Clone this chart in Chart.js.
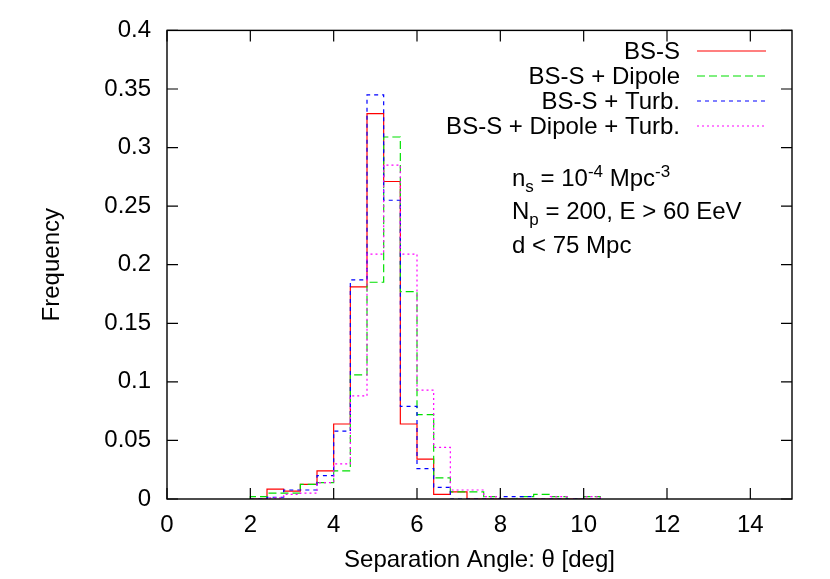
<!DOCTYPE html>
<html>
<head>
<meta charset="utf-8">
<script src="https://cdn.jsdelivr.net/npm/chart.js@4/dist/chart.umd.min.js"></script>
<style>
  html, body { margin: 0; padding: 0; background: #ffffff; }
  #wrap { width: 830px; height: 579px; }
</style>
</head>
<body>
<div id="wrap"><canvas id="c" width="830" height="579"></canvas></div>
<script>
// ---- data ----
const binEdges = [2.0, 2.4, 2.8, 3.2, 3.6, 4.0, 4.4, 4.8, 5.2, 5.6, 6.0, 6.4, 6.8, 7.2, 7.6, 8.0, 8.4, 8.8, 9.2, 9.6, 10.0, 10.4];
const bsS        = [0, 0.0085, 0.0068, 0.0125, 0.024, 0.064, 0.181, 0.329, 0.271, 0.064, 0.034, 0.004, 0.006, 0, 0, 0, 0, 0, 0, 0, 0];
const bsSDipole  = [0.002, 0.005, 0.005, 0.0125, 0.014, 0.024, 0.106, 0.185, 0.309, 0.177, 0.072, 0.018, 0.006, 0.006, 0.002, 0, 0.002, 0.004, 0.002, 0, 0.002];
const bsSTurb    = [0, 0.0015, 0.0077, 0.0077, 0.020, 0.058, 0.187, 0.345, 0.255, 0.079, 0.026, 0.010, 0, 0, 0, 0.002, 0.002, 0, 0, 0, 0];
const bsSDipTurb = [0, 0.001, 0.004, 0.005, 0.014, 0.030, 0.088, 0.209, 0.285, 0.209, 0.093, 0.044, 0.0077, 0.0077, 0.002, 0, 0, 0, 0.002, 0, 0.002];
const seriesLabels = ['BS-S', 'BS-S + Dipole', 'BS-S + Turb.', 'BS-S + Dipole + Turb.'];
const xTicks = [0, 2, 4, 6, 8, 10, 12, 14];
const yTicks = [0, 0.05, 0.1, 0.15, 0.2, 0.25, 0.3, 0.35, 0.4];
const xTitle = 'Separation Angle: \u03b8 [deg]';
const yTitle = 'Frequency';

const FONT = '"Liberation Sans", Arial, Helvetica, sans-serif';
const FS = 24;

function histPoints(vals) {
  const pts = [{x: binEdges[0], y: 0}];
  for (let i = 0; i < binEdges.length; i++) {
    pts.push({x: binEdges[i], y: i < vals.length ? vals[i] : 0});
  }
  return pts;
}

const styles = [
  {color: '#ff0000', dash: []},
  {color: '#00e000', dash: [8, 4]},
  {color: '#0000ff', dash: [4, 4]},
  {color: '#ff00ff', dash: [2, 3]}
];
const allSeries = [bsS, bsSDipole, bsSTurb, bsSDipTurb];

const datasets = allSeries.map((vals, i) => ({
  label: seriesLabels[i],
  data: histPoints(vals),
  borderColor: styles[i].color,
  borderDash: styles[i].dash,
  borderWidth: 1.2,
  pointRadius: 0,
  fill: false,
  stepped: 'before',
  tension: 0,
  order: 4 - i
}));

const decor = {
  id: 'decor',
  afterDraw(chart) {
    const ctx = chart.ctx;
    const a = chart.chartArea;
    const xs = chart.scales.x, ys = chart.scales.y;
    ctx.save();
    // frame
    ctx.strokeStyle = '#000';
    ctx.lineWidth = 1.4;
    ctx.setLineDash([]);
    ctx.strokeRect(a.left, a.top, a.right - a.left, a.bottom - a.top);
    // inward ticks
    const tl = 11;
    ctx.lineWidth = 1.2;
    ctx.beginPath();
    xTicks.forEach(v => {
      const px = xs.getPixelForValue(v);
      ctx.moveTo(px, a.bottom); ctx.lineTo(px, a.bottom - tl);
      ctx.moveTo(px, a.top); ctx.lineTo(px, a.top + tl);
    });
    yTicks.forEach(v => {
      const py = ys.getPixelForValue(v);
      ctx.moveTo(a.left, py); ctx.lineTo(a.left + tl, py);
      ctx.moveTo(a.right, py); ctx.lineTo(a.right - tl, py);
    });
    ctx.stroke();

    // legend (gnuplot style: text right-aligned, sample to the right)
    ctx.font = FS + 'px ' + FONT;
    ctx.fillStyle = '#000';
    ctx.textAlign = 'right';
    ctx.textBaseline = 'middle';
    const rowY0 = 51, rowStep = 25;
    chart.data.datasets.forEach((ds, i) => {
      const y = rowY0 + i * rowStep;
      ctx.fillText(ds.label, 680, y + 1);
      ctx.strokeStyle = ds.borderColor;
      ctx.setLineDash(ds.borderDash);
      ctx.lineWidth = 1.2;
      ctx.beginPath();
      ctx.moveTo(697, y); ctx.lineTo(766, y);
      ctx.stroke();
    });
    ctx.setLineDash([]);

    // annotation with sub/superscripts
    const big = FS + 'px ' + FONT;
    const small = Math.round(FS * 0.72) + 'px ' + FONT;
    ctx.textAlign = 'left';
    ctx.textBaseline = 'alphabetic';
    function runs(parts, x, y) {
      parts.forEach(p => {
        ctx.font = p.s ? small : big;
        const dy = p.s === 'sub' ? 6 : (p.s === 'sup' ? -9 : 0);
        ctx.fillText(p.t, x, y + dy);
        x += ctx.measureText(p.t).width;
      });
    }
    runs([{t: 'n'}, {t: 's', s: 'sub'}, {t: ' = 10'}, {t: '-4', s: 'sup'}, {t: ' Mpc'}, {t: '-3', s: 'sup'}], 512, 186);
    runs([{t: 'N'}, {t: 'p', s: 'sub'}, {t: ' = 200, E > 60 EeV'}], 512, 219);
    runs([{t: 'd < 75 Mpc'}], 512, 253);
    ctx.restore();
  }
};

new Chart(document.getElementById('c'), {
  type: 'line',
  data: { datasets },
  options: {
    responsive: false,
    animation: false,
    devicePixelRatio: 1,
    layout: { padding: { left: 0, top: 27, right: 38, bottom: 0 } },
    plugins: { legend: { display: false }, tooltip: { enabled: false } },
    scales: {
      x: {
        type: 'linear', min: 0, max: 15,
        afterFit(s) { s.height = 80; },
        grid: { display: false, drawTicks: false },
        border: { display: false },
        ticks: {
          stepSize: 2, includeBounds: false, padding: 12, maxRotation: 0,
          color: '#000', font: { family: FONT, size: FS },
          callback: v => String(v)
        },
        title: { display: true, text: xTitle, color: '#000', font: { family: FONT, size: FS }, padding: { top: 0, bottom: 4 } }
      },
      y: {
        type: 'linear', min: 0, max: 0.4,
        afterFit(s) { s.width = 167; },
        grid: { display: false, drawTicks: false },
        border: { display: false },
        ticks: {
          stepSize: 0.05, padding: 16,
          color: '#000', font: { family: FONT, size: FS },
          callback: v => String(+(+v).toFixed(2))
        },
        title: { display: true, text: yTitle, color: '#000', font: { family: FONT, size: FS }, padding: { top: 38, bottom: 0 } }
      }
    }
  },
  plugins: [decor]
});
</script>
</body>
</html>
